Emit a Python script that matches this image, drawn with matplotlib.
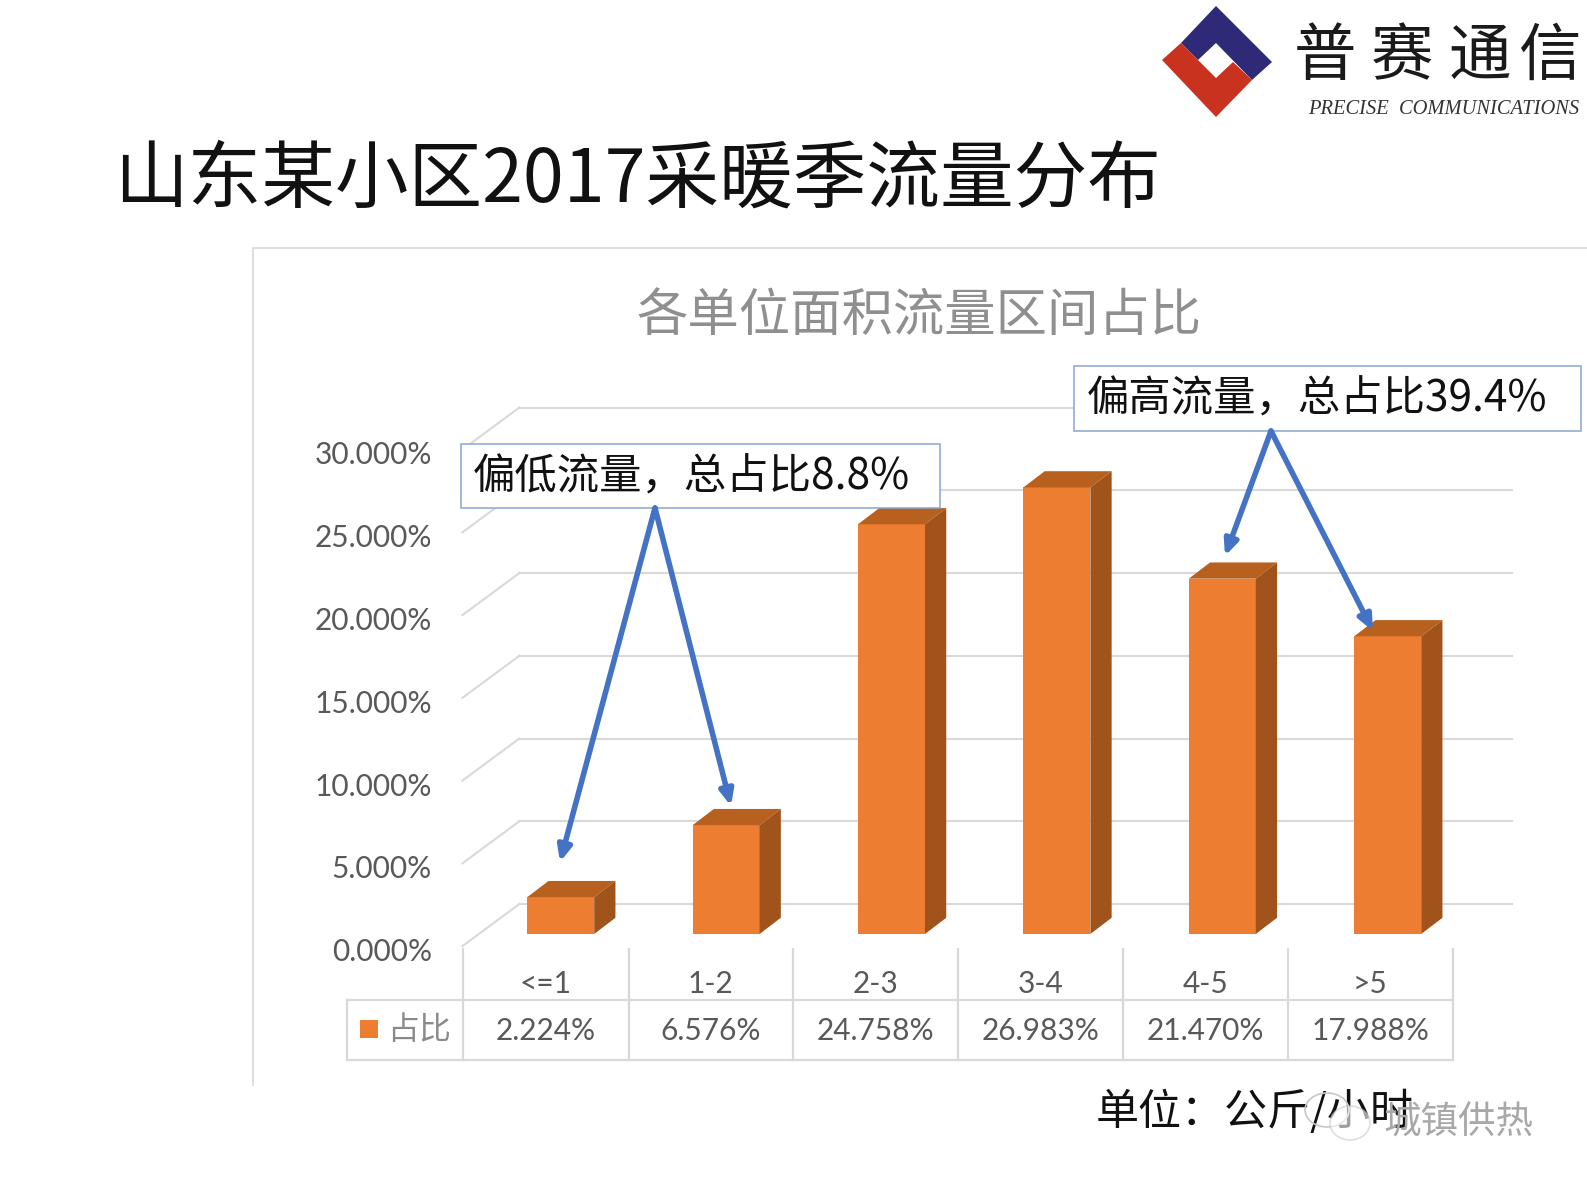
import matplotlib
matplotlib.use("Agg")
import matplotlib.pyplot as plt
from matplotlib.patches import Polygon, Rectangle, Ellipse

plt.rcParams['font.family'] = ['Noto Sans CJK SC', 'DejaVu Sans']

WIDTH = 1587
HEIGHT = 1190

# data
categories = ["<=1", "1-2", "2-3", "3-4", "4-5", ">5"]
shares = [2.224, 6.576, 24.758, 26.983, 21.470, 17.988]
share_labels = ["2.224%", "6.576%", "24.758%", "26.983%", "21.470%", "17.988%"]
y_ticks = [0, 5, 10, 15, 20, 25, 30]
y_tick_labels = ["0.000%", "5.000%", "10.000%", "15.000%", "20.000%", "25.000%", "30.000%"]
series_name = "占比"
title = "山东某小区2017采暖季流量分布"
chart_title = "各单位面积流量区间占比"
low_note = "偏低流量，总占比8.8%"
high_note = "偏高流量，总占比39.4%"
unit_note = "单位：公斤/小时"
logo_chars = ["普", "赛", "通", "信"]

# layout in pixels
ZERO_Y = 934
PX_PER_PCT = 16.55
FIRST_X = 560.7
PX_PER_CAT = 165.4

# 3d look, in data units
BAR_W = 0.405
SIDE_DX = 0.1285
SIDE_DY = 0.98
BACK_DY = 1.81
FRONT_DY = -0.73
BACK_X = -0.25
FRONT_X = -0.594
GRID_END = 5.75

ORANGE = "#ed7d31"
ORANGE_TOP = "#b8611f"
ORANGE_SIDE = "#a0541c"
GRID = "#d9d9d9"
TEXT_GREY = "#595959"
ARROW = "#4472c4"
BOX_EDGE = "#8aa6cf"

fig = plt.figure(figsize=(WIDTH / 100, HEIGHT / 100), dpi=100, facecolor="white")

# chart axes, x in categories and y in percent
ax = fig.add_axes([0, 0, 1, 1])
ax.set_xlim(-FIRST_X / PX_PER_CAT, (WIDTH - FIRST_X) / PX_PER_CAT)
ax.set_ylim(-(HEIGHT - ZERO_Y) / PX_PER_PCT, ZERO_Y / PX_PER_PCT)
ax.axis("off")

for tick in y_ticks:
    ax.plot([BACK_X, GRID_END], [tick + BACK_DY] * 2, color=GRID, lw=1.5, zorder=1)
    ax.plot([FRONT_X, BACK_X], [tick + FRONT_DY, tick + BACK_DY], color=GRID, lw=1.5, zorder=1)

for i, value in enumerate(shares):
    left = i - BAR_W / 2
    right = i + BAR_W / 2
    ax.bar(i, value, width=BAR_W, color=ORANGE, zorder=3)
    ax.add_patch(Polygon([(left, value), (right, value), (right + SIDE_DX, value + SIDE_DY),
                          (left + SIDE_DX, value + SIDE_DY)], color=ORANGE_TOP, lw=0, zorder=3))
    ax.add_patch(Polygon([(right, 0), (right + SIDE_DX, SIDE_DY), (right + SIDE_DX, value + SIDE_DY),
                          (right, value)], color=ORANGE_SIDE, lw=0, zorder=3))

# overlay in image pixels for everything around the plot
ov = fig.add_axes([0, 0, 1, 1])
ov.set_xlim(0, WIDTH)
ov.set_ylim(HEIGHT, 0)
ov.axis("off")
ov.patch.set_alpha(0)

# chart frame
ov.plot([253, 253, 1587], [1085, 248, 248], color="#dedede", lw=1.4)

ov.text(114, 181, title, fontsize=53, color="#111111", ha="left", va="center")
ov.text(919, 316, chart_title, fontsize=37, color="#8f8f8f", ha="center", va="center")

for tick, label in zip(y_ticks, y_tick_labels):
    ov.text(432, ZERO_Y + 18 - tick * PX_PER_PCT, label, family="Lato", fontsize=21.5,
            color=TEXT_GREY, ha="right", va="center")

# data table
cell_x = [462.5, 628.5, 792.5, 957.5, 1123, 1288, 1453]
table_top = 949
table_mid = 1000
table_bottom = 1060
table_left = 347
for x in cell_x:
    ov.plot([x, x], [table_top, table_bottom], color=GRID, lw=1.6)
ov.plot([table_left, cell_x[-1]], [table_mid, table_mid], color=GRID, lw=1.6)
ov.plot([table_left, cell_x[-1]], [table_bottom, table_bottom], color=GRID, lw=1.6)
ov.plot([table_left, table_left], [table_mid, table_bottom], color=GRID, lw=1.6)

for i, (cat, lab) in enumerate(zip(categories, share_labels)):
    cx = (cell_x[i] + cell_x[i + 1]) / 2
    ov.text(cx, 984, cat, family="Lato", fontsize=21.5, color=TEXT_GREY, ha="center", va="center")
    ov.text(cx, 1031, lab, family="Lato", fontsize=21.5, color=TEXT_GREY, ha="center", va="center")

ov.add_patch(Rectangle((360, 1020), 18, 18, color=ORANGE, lw=0))
ov.text(419, 1030, series_name, fontsize=23, color="#8a8a8a", ha="center", va="center")

# callouts
ov.add_patch(Rectangle((461, 444), 479, 64, fc="white", ec=BOX_EDGE, lw=1.1, zorder=5))
ov.text(473, 478, low_note, fontsize=30.5, color="#111111", ha="left", va="center", zorder=6)
ov.add_patch(Rectangle((1074, 366), 507, 65, fc="white", ec=BOX_EDGE, lw=1.1, zorder=5))
ov.text(1087, 400, high_note, fontsize=30.5, color="#111111", ha="left", va="center", zorder=6)

arrow_style = dict(arrowstyle="-|>,head_width=0.4,head_length=0.9", color=ARROW, lw=4,
                   shrinkA=0, shrinkB=0)
for start, end in [((655, 508), (560, 862)), ((655, 508), (731, 806)),
                   ((1271, 431), (1225, 556)), ((1271, 431), (1373, 631))]:
    ov.annotate("", xy=end, xytext=start, arrowprops=arrow_style, zorder=7)

# logo
ov.add_patch(Polygon([(1216, 6), (1272, 62), (1252, 80), (1216, 43), (1198, 60), (1181, 43)],
                     color="#2e2a78", lw=0))
ov.add_patch(Polygon([(1162, 60), (1181, 43), (1216, 78), (1233, 62), (1252, 80), (1216, 117)],
                     color="#c8321f", lw=0))
for ch, x in zip(logo_chars, [1325, 1402, 1480, 1550]):
    ov.text(x, 57, ch, fontsize=45, color="#1a1a1a", ha="center", va="center")
ov.text(1444, 110, "PRECISE  COMMUNICATIONS", family="Liberation Serif", style="italic",
        fontsize=14.8, color="#333333", ha="center", va="center")

# footer and watermark
ov.text(1096, 1113, unit_note, fontsize=31, color="#111111", ha="left", va="center")
ov.add_patch(Ellipse((1327, 1110), 44, 34, fc="none", ec="#c8c8c8", lw=1.2, zorder=8))
ov.add_patch(Ellipse((1350, 1123), 40, 34, fc="white", ec="#c8c8c8", lw=1.2, alpha=0.6, zorder=8))
ov.text(1458, 1123, "城镇供热", fontsize=27, color="#a8a8a8", ha="center", va="center", zorder=9)

fig.savefig("out.png", dpi=100)
